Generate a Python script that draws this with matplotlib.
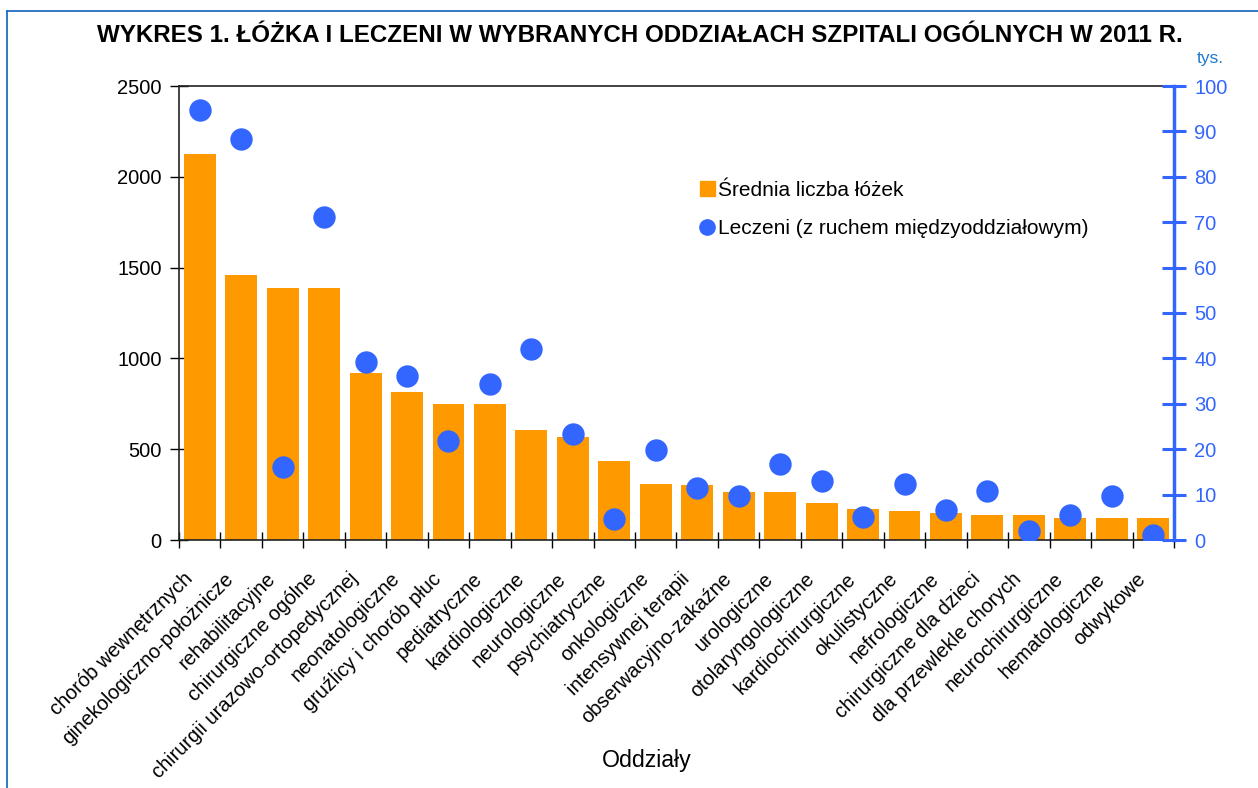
import numpy as np
import matplotlib
matplotlib.use("Agg")
import matplotlib.pyplot as plt
from matplotlib.lines import Line2D
from matplotlib.transforms import ScaledTranslation

plt.rcParams['font.family'] = ['Liberation Sans', 'DejaVu Sans']

categories = [
    "chorób wewnętrznych", "ginekologiczno-położnicze", "rehabilitacyjne",
    "chirurgiczne ogólne", "chirurgii urazowo-ortopedycznej", "neonatologiczne",
    "gruźlicy i chorób płuc", "pediatryczne", "kardiologiczne", "neurologiczne",
    "psychiatryczne", "onkologiczne", "intensywnej terapii",
    "obserwacyjno-zakaźne", "urologiczne", "otolaryngologiczne",
    "kardiochirurgiczne", "okulistyczne", "nefrologiczne",
    "chirurgiczne dla dzieci", "dla przewlekle chorych", "neurochirurgiczne",
    "hematologiczne", "odwykowe",
]
beds = [2125, 1459, 1388, 1388, 920, 815, 751, 751, 606, 567, 435, 308, 303,
        264, 264, 204, 171, 160, 149, 138, 138, 121, 121, 121]
treated = [94.8, 88.3, 16.1, 71.2, 39.3, 36.2, 21.8, 34.4, 42.0, 23.3, 4.6,
           19.9, 11.5, 9.6, 16.8, 13.0, 5.0, 12.3, 6.5, 10.7, 2.0, 5.4, 9.6, 1.2]
left_ticks = [0, 500, 1000, 1500, 2000, 2500]
right_ticks = [0, 10, 20, 30, 40, 50, 60, 70, 80, 90, 100]

title = "WYKRES 1. ŁÓŻKA I LECZENI W WYBRANYCH ODDZIAŁACH SZPITALI OGÓLNYCH W 2011 R."
bar_label = "Średnia liczba łóżek"
dot_label = "Leczeni (z ruchem międzyoddziałowym)"

ORANGE = "#FF9900"
BLUE = "#3366FF"

W, H = 1258, 788
L, R, T, B = 179, 1174, 86, 540
fig = plt.figure(figsize=(W/100, H/100), dpi=100)
ax = fig.add_axes([L/W, 1-B/H, (R-L)/W, (B-T)/H])

x = np.arange(len(categories))
ax.bar(x, beds, width=0.77, color=ORANGE, zorder=2)
ax.set_xlim(-0.5, len(categories) - 0.5)
ax.set_ylim(0, 2500)
ax.set_yticks(left_ticks)
ax.tick_params(axis='y', direction='inout', length=13, width=1, labelsize=14.5, pad=6)
ax.set_xticks(x)
ax.set_xticklabels(categories, rotation=45, ha='right', rotation_mode='anchor', fontsize=14.4)
ax.tick_params(axis='x', which='major', length=0, pad=21)
offset = ScaledTranslation(-0.17, 0, fig.dpi_scale_trans)
for lab in ax.get_xticklabels():
    lab.set_transform(lab.get_transform() + offset)
ax.set_xticks(np.arange(len(categories) + 1) - 0.5, minor=True)
ax.tick_params(axis='x', which='minor', direction='inout', length=12, width=1)
for s in ['left', 'top', 'bottom']:
    ax.spines[s].set_color('#222222')
    ax.spines[s].set_linewidth(1.2)
ax.spines['right'].set_visible(False)
ax.set_xlabel("Oddziały", fontsize=16.7, va='center', ha='center')
ax.xaxis.set_label_coords((647-L)/(R-L), -(761-B)/(B-T))

ax2 = ax.twinx()
ax2.scatter(x, treated, s=260, color=BLUE, zorder=3, linewidths=0)
ax2.set_ylim(0, 100)
ax2.set_yticks(right_ticks)
ax2.tick_params(axis='y', direction='inout', length=17, width=2.2, colors=BLUE,
                labelsize=14.5, labelcolor=BLUE, pad=6)
ax2.spines['right'].set_color(BLUE)
ax2.spines['right'].set_linewidth(2.5)
for s in ['left', 'top', 'bottom']:
    ax2.spines[s].set_visible(False)
ax2.text(1.0 + 36/(R-L), 1.0 + 28/(B-T), "tys.", transform=ax2.transAxes,
         color="#1F7ACC", fontsize=12.5, ha='center', va='center')

handles = [
    Line2D([], [], linestyle='none', marker='s', markersize=10.8, color=ORANGE),
    Line2D([], [], linestyle='none', marker='o', markersize=11, color=BLUE),
]
ax2.legend(handles, [bar_label, dot_label], loc='upper left',
           bbox_to_anchor=((699-L)/(R-L), (B-180.5)/(B-T)), frameon=False,
           fontsize=15, handlelength=0.8, handletextpad=0.13,
           labelspacing=0.94, borderpad=0, borderaxespad=0)

fig.text(640/W, 1-36/H, title, fontsize=17.4, fontweight='bold',
         ha='center', va='center')

frame_color = "#1F6FC0"
fig.add_artist(Line2D([7/W, 1.0], [1-11/H, 1-11/H], color=frame_color,
                      lw=1.3, transform=fig.transFigure))
fig.add_artist(Line2D([7/W, 7/W], [0.0, 1-11/H], color=frame_color,
                      lw=1.3, transform=fig.transFigure))

fig.savefig("out.png", dpi=100)
